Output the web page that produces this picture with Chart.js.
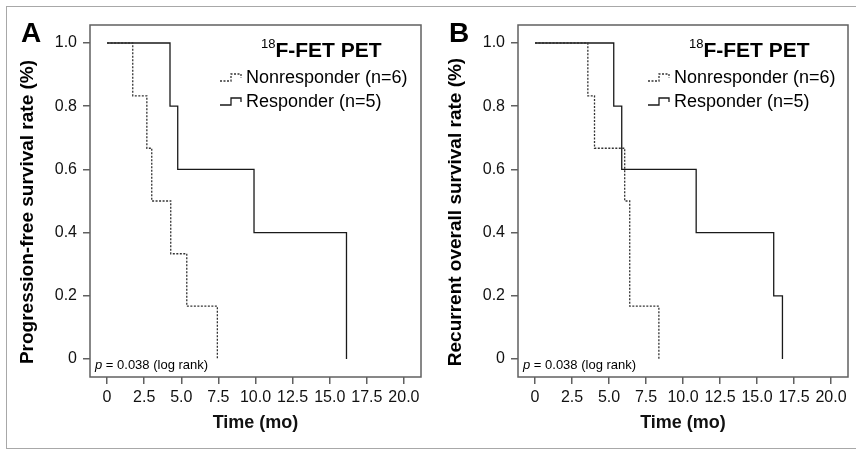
<!DOCTYPE html>
<html lang="en">
<head>
<meta charset="UTF-8">
<title>18F-FET PET survival curves</title>
<script src="https://cdn.jsdelivr.net/npm/chart.js"></script>
<style>
    body { margin: 0; background: #fff; }
    #wrap { position: relative; width: 856px; height: 451px; overflow: hidden; }
    #wrap canvas { position: absolute; top: 0; }
    #border { position: absolute; left: 6px; top: 6px; width: 870px; height: 441px;
              border: 1.5px solid #a8a8a8; border-right: none; }
</style>
</head>
<body>
<div id="wrap">
    <div id="border"></div>
    <canvas id="chartA" width="428" height="451" style="left:0"></canvas>
    <canvas id="chartB" width="428" height="451" style="left:428px"></canvas>
</div>
<script>
// axis ticks
const xTicks = [0, 2.5, 5, 7.5, 10, 12.5, 15, 17.5, 20];
const xTickLabels = ['0', '2.5', '5.0', '7.5', '10.0', '12.5', '15.0', '17.5', '20.0'];
const yTicks = [0, 0.2, 0.4, 0.6, 0.8, 1.0];
const yTickLabels = ['0', '0.2', '0.4', '0.6', '0.8', '1.0'];

const seriesNames = ['Nonresponder (n=6)', 'Responder (n=5)'];

// Panel A - progression-free survival (months / survival fraction)
const pfsNonTime = [0, 1.73, 2.68, 3.01, 4.29, 5.37, 7.43];
const pfsNonRate = [1, 0.833, 0.667, 0.5, 0.333, 0.167, 0];
const pfsRespTime = [0, 4.24, 4.76, 9.9, 16.13];
const pfsRespRate = [1, 0.8, 0.6, 0.4, 0];

// Panel B - recurrent overall survival
const osNonTime = [0, 3.57, 4.02, 6.06, 6.4, 8.37];
const osNonRate = [1, 0.833, 0.667, 0.5, 0.167, 0];
const osRespTime = [0, 5.32, 5.86, 10.89, 16.13, 16.72];
const osRespRate = [1, 0.8, 0.6, 0.4, 0.2, 0];

const FONT = '"Liberation Sans", Arial, Helvetica, sans-serif';
Chart.defaults.font.family = FONT;
Chart.defaults.color = '#111';

const toPoints = (t, r) => t.map((x, i) => ({ x, y: r[i] }));

// frame, panel letter, y title, legend and p value
const panelDecor = {
    id: 'panelDecor',
    afterDraw(chart, args, opts) {
        const { ctx, chartArea: a } = chart;
        ctx.save();
        ctx.strokeStyle = '#606060';
        ctx.lineWidth = 1.5;
        ctx.strokeRect(a.left, a.top, a.right - a.left, a.bottom - a.top);

        ctx.fillStyle = '#000';
        ctx.textBaseline = 'alphabetic';
        ctx.textAlign = 'left';
        ctx.font = `bold 28px ${FONT}`;
        ctx.fillText(opts.letter, 21, 42);

        // y axis title
        ctx.save();
        ctx.translate(28, 212);
        ctx.rotate(-Math.PI / 2);
        ctx.textAlign = 'center';
        ctx.textBaseline = 'middle';
        ctx.font = `bold 19px ${FONT}`;
        ctx.fillText(opts.yTitle, 0, 0);
        ctx.restore();

        // legend title with superscript
        ctx.font = `13px ${FONT}`;
        ctx.fillText('18', 261, 48);
        const supW = ctx.measureText('18').width;
        ctx.font = `bold 21px ${FONT}`;
        ctx.fillText('F-FET PET', 261 + supW, 57);

        // legend rows
        const rows = [83, 107];
        chart.data.datasets.forEach((ds, i) => {
            const yb = rows[i];
            ctx.strokeStyle = ds.borderColor;
            ctx.lineWidth = ds.borderWidth;
            ctx.setLineDash(ds.borderDash || []);
            ctx.beginPath();
            ctx.moveTo(220, yb - 2);
            ctx.lineTo(231, yb - 2);
            ctx.lineTo(231, yb - 9);
            ctx.lineTo(241, yb - 9);
            ctx.lineTo(241, yb - 5);
            ctx.stroke();
            ctx.setLineDash([]);
            ctx.font = `18px ${FONT}`;
            ctx.fillText(ds.label, 246, yb);
        });

        // log rank p value
        ctx.font = `italic 13px ${FONT}`;
        ctx.fillText('p', 95, 369);
        const pW = ctx.measureText('p').width;
        ctx.font = `13px ${FONT}`;
        ctx.fillText(' = 0.038 (log rank)', 95 + pW, 369);
        ctx.restore();
    }
};

function makeChart(id, letter, yTitle, nonT, nonR, respT, respR, padRight) {
    return new Chart(document.getElementById(id), {
        type: 'line',
        data: {
            datasets: [
                {
                    label: seriesNames[0],
                    data: toPoints(nonT, nonR),
                    stepped: 'before',
                    borderColor: '#333',
                    borderWidth: 1.3,
                    borderDash: [2, 1.5],
                    pointRadius: 0,
                    fill: false
                },
                {
                    label: seriesNames[1],
                    data: toPoints(respT, respR),
                    stepped: 'before',
                    borderColor: '#1a1a1a',
                    borderWidth: 1.3,
                    pointRadius: 0,
                    fill: false
                }
            ]
        },
        options: {
            responsive: false,
            animation: false,
            layout: { padding: { top: 25, right: padRight, left: 0, bottom: 0 } },
            plugins: {
                legend: { display: false },
                tooltip: { enabled: false },
                panelDecor: { letter, yTitle }
            },
            scales: {
                x: {
                    type: 'linear',
                    min: -1.15,
                    max: 21.15,
                    afterBuildTicks: s => { s.ticks = xTicks.map(v => ({ value: v })); },
                    afterFit: s => { s.height = 74; },
                    ticks: {
                        callback: (v, i) => xTickLabels[i],
                        font: { size: 16 },
                        color: '#111',
                        padding: 4,
                        maxRotation: 0,
                        autoSkip: false
                    },
                    grid: { drawOnChartArea: false, drawTicks: true, tickLength: 7, color: '#606060', lineWidth: 1.5 },
                    border: { display: false },
                    title: {
                        display: true,
                        text: 'Time (mo)',
                        font: { size: 18, weight: 'bold' },
                        color: '#111',
                        padding: { top: 0, bottom: 17 }
                    }
                },
                y: {
                    min: -0.057,
                    max: 1.057,
                    afterBuildTicks: s => { s.ticks = yTicks.map(v => ({ value: v })); },
                    afterFit: s => { s.width = 90; },
                    ticks: {
                        callback: (v, i) => yTickLabels[i],
                        font: { size: 16 },
                        color: '#111',
                        padding: 6,
                        autoSkip: false
                    },
                    grid: { drawOnChartArea: false, drawTicks: true, tickLength: 7, color: '#606060', lineWidth: 1.5 },
                    border: { display: false },
                    title: { display: false }
                }
            }
        },
        plugins: [panelDecor]
    });
}

makeChart('chartA', 'A', 'Progression-free survival rate (%)',
    pfsNonTime, pfsNonRate, pfsRespTime, pfsRespRate, 7);
makeChart('chartB', 'B', 'Recurrent overall survival rate (%)',
    osNonTime, osNonRate, osRespTime, osRespRate, 8);
</script>
</body>
</html>
